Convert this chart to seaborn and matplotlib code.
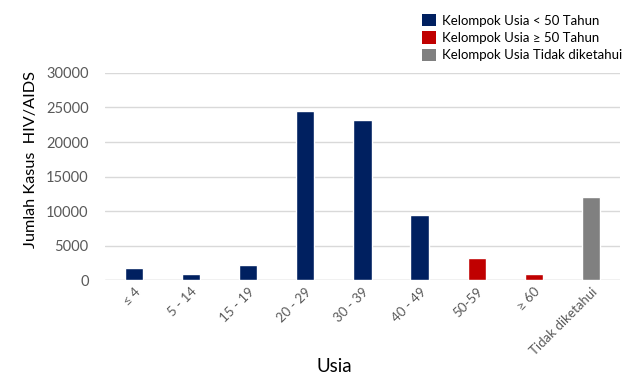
import matplotlib
matplotlib.use("Agg")
import matplotlib.pyplot as plt
import seaborn as sns
import pandas as pd
from matplotlib.patches import Patch

# Age groups and case counts
usia = ["≤ 4", "5 - 14", "15 - 19", "20 - 29", "30 - 39", "40 - 49", "50-59", "≥ 60", "Tidak diketahui"]
kasus = [1700, 920, 2220, 24530, 23120, 9390, 3150, 920, 12050]
kelompok = ["Kelompok Usia < 50 Tahun"] * 6 + ["Kelompok Usia ≥ 50 Tahun"] * 2 + ["Kelompok Usia Tidak diketahui"]
warna = {
    "Kelompok Usia < 50 Tahun": "#002060",
    "Kelompok Usia ≥ 50 Tahun": "#C00000",
    "Kelompok Usia Tidak diketahui": "#808080",
}

df = pd.DataFrame({"Usia": usia, "Kasus": kasus, "Kelompok": kelompok})

sns.set_theme(style="white")
plt.rcParams["font.family"] = ["Lato", "DejaVu Sans"]

fig = plt.figure(figsize=(6.26, 3.76), dpi=100)
ax = fig.add_axes([0.168, 0.255, 0.822, 0.551])

sns.barplot(data=df, x="Usia", y="Kasus", hue="Kelompok", palette=warna,
            dodge=False, width=0.32, saturation=1, ax=ax, legend=False, zorder=3)

ax.set_ylim(0, 30000)
ax.set_yticks(range(0, 30001, 5000))
ax.set_xlim(-0.5, len(usia) - 0.5)
ax.yaxis.grid(True, color="#D9D9D9", linewidth=1, zorder=0)
ax.set_axisbelow(True)
for s in ax.spines.values():
    s.set_visible(False)
ax.axhline(0, color="#D9D9D9", linewidth=1, zorder=1)

ax.tick_params(axis="y", labelsize=10.5, labelcolor="#595959", length=0, pad=12)
ax.tick_params(axis="x", labelsize=9.5, labelcolor="#595959", length=0, pad=4)
for lbl in ax.get_xticklabels():
    lbl.set_rotation(45)
    lbl.set_ha("right")
    lbl.set_rotation_mode("anchor")

ax.set_ylabel("Jumlah Kasus  HIV/AIDS", fontsize=11.7, color="black")
ax.yaxis.set_label_coords(-0.13, 0.58)
ax.set_xlabel("Usia", fontsize=13.5, color="black")
ax.xaxis.set_label_coords(0.445, -0.375)

handles = [Patch(facecolor=c, edgecolor="none", label=k) for k, c in warna.items()]
fig.legend(handles=handles, loc="upper left", bbox_to_anchor=(0.655, 0.995),
           frameon=False, fontsize=9.5, handlelength=1.1, handleheight=1.1,
           handletextpad=0.4, labelspacing=0.35, labelcolor="black")

fig.savefig("out.png", dpi=100)
